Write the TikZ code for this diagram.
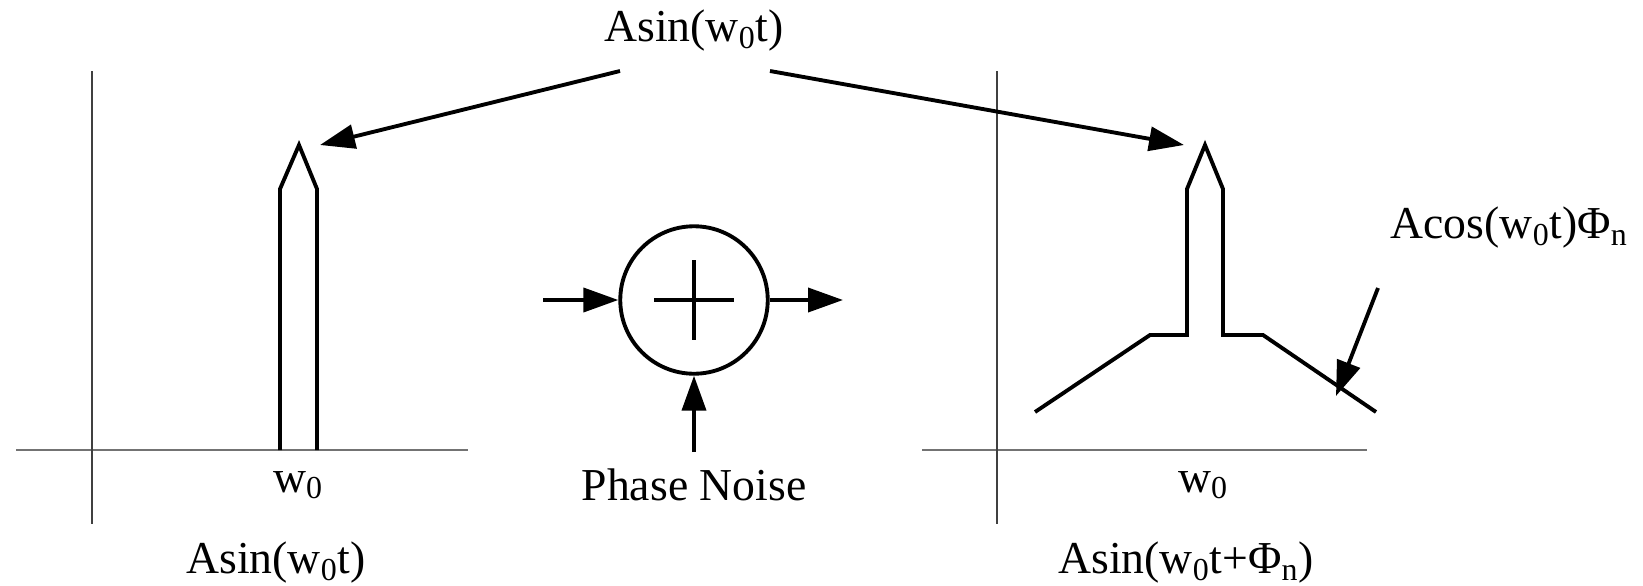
\documentclass[tikz,border=0pt]{standalone}
\usepackage{fontspec}
\setmainfont{Liberation Serif}
\usetikzlibrary{arrows.meta}
\begin{document}
\begin{tikzpicture}[x=0.02cm,y=-0.02cm,
  every node/.style={font=\fontsize{26}{31}\selectfont},
  axis/.style={line width=1.4pt,black!55},
  yaxis/.style={line width=0.7pt,black!75},
  spectrum/.style={line width=2.2pt,line join=miter},
  pointer/.style={line width=2.2pt,-{Triangle[length=0.7cm,width=0.48cm]}}]
  \useasboundingbox (0,0) rectangle (1643,585);
  \node (top) at (694,31) {Asin(w\textsubscript{0}t)};
  \coordinate (topL) at (620,71);
  \coordinate (topR) at (770,71);
  \begin{scope}
    \draw[axis] (16,450) -- (468,450);
    \draw[yaxis] (92,71) -- (92,524);
    \draw[spectrum] (280,450) -- (280,189) -- (299,145) coordinate (tipL) -- (317,189) -- (317,450);
    \node (wL) at (298,485) {w\textsubscript{0}};
    \node (sigL) at (276,563) {Asin(w\textsubscript{0}t)};
  \end{scope}
  \draw[pointer] (topL) -- ([xshift=0.42cm]tipL);
  \node[circle,draw,line width=2.2pt,minimum size=2.95cm,inner sep=0pt] (sum) at (694,300) {};
  \draw[line width=2.2pt] ([xshift=-0.8cm]sum.center) -- ([xshift=0.8cm]sum.center);
  \draw[line width=2.2pt] ([yshift=-0.8cm]sum.center) -- ([yshift=0.8cm]sum.center);
  \coordinate (in) at (543,300);
  \coordinate (out) at (843,300);
  \coordinate (pn) at (694,452);
  \draw[pointer] (in) -- (sum.west);
  \draw[pointer] (sum.east) -- (out);
  \draw[pointer] (pn) -- (sum.south);
  \node (noise) at (694,485) {Phase Noise};
  \begin{scope}
    \draw[axis] (922,450) -- (1367,450);
    \draw[yaxis] (997,71) -- (997,524);
    \draw[spectrum] (1035,412) -- (1150,335) -- (1187,335) -- (1187,189) -- (1205,145) coordinate (tipR)
      -- (1223,189) -- (1223,335) -- (1263,335) -- (1376,412);
    \node (wR) at (1203,485) {w\textsubscript{0}};
    \node (sigR) at (1186,563) {Asin(w\textsubscript{0}t+Φ\textsubscript{n})};
    \node[anchor=east] (skirt) at (1634,228) {Acos(w\textsubscript{0}t)Φ\textsubscript{n}};
    \coordinate (skirtS) at (1378,288);
    \coordinate (skirtE) at (1336,396);
  \end{scope}
  \draw[pointer] (topR) -- ([xshift=-0.42cm]tipR);
  \draw[pointer] (skirtS) -- (skirtE);
\end{tikzpicture}
\end{document}
